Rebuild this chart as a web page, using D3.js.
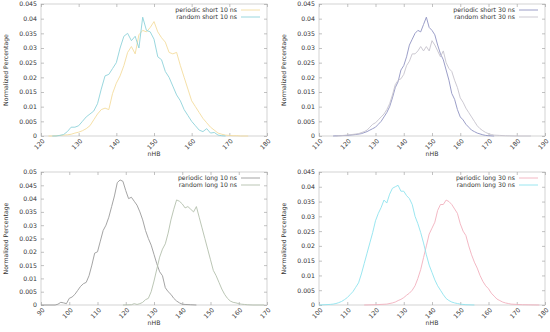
<!DOCTYPE html>
<html>
<head>
<meta charset="utf-8">
<script src="https://cdn.jsdelivr.net/npm/d3@7/dist/d3.min.js"></script>
<style>
  body { margin: 0; background: #fff; }
  text { font-family: "DejaVu Sans", sans-serif; font-size: 6.2px; fill: #333; }
</style>
</head>
<body>
<svg width="550" height="332"></svg>
<script>
// ---- data: [nHB, normalized percentage] ----
var periodicShort10 = [[122,0],[123,0],[124,0.0001],[125,0.0002],[126,0.0003],[127,0.0004],[128,0.0006],[129,0.001],[130,0.0013],[131,0.0018],[132,0.0025],[133,0.0035],[134,0.0055],[135,0.0075],[136,0.009],[137,0.0095],[138,0.009],[139,0.0145],[140,0.018],[141,0.0205],[142,0.024],[143,0.0285],[144,0.0305],[145,0.028],[146,0.0345],[147,0.036],[148,0.0355],[149,0.037],[150,0.039],[151,0.0355],[152,0.0335],[153,0.032],[154,0.0285],[155,0.028],[156,0.0285],[157,0.024],[158,0.02],[159,0.016],[160,0.012],[161,0.01],[162,0.008],[163,0.006],[164,0.0045],[165,0.003],[166,0.002],[167,0.001],[168,0.0006],[169,0.0003],[170,0.0002],[171,0.0001],[172,0.0001],[173,0],[175,0]];
var randomShort10 = [[123,0],[124,0],[125,0.0002],[126,0.0005],[127,0.0015],[128,0.003],[129,0.003],[130,0.0035],[131,0.005],[132,0.0065],[133,0.0075],[134,0.0085],[135,0.011],[136,0.016],[137,0.0205],[138,0.021],[139,0.023],[140,0.025],[141,0.03],[142,0.034],[143,0.035],[144,0.0325],[145,0.034],[146,0.03],[147,0.0405],[148,0.036],[149,0.0355],[150,0.033],[151,0.027],[152,0.026],[153,0.022],[154,0.02],[155,0.017],[156,0.014],[157,0.012],[158,0.009],[159,0.007],[160,0.005],[161,0.0035],[162,0.002],[163,0.0015],[164,0.0025],[165,0.001],[166,0.0012],[167,0.0003],[168,0.0001],[169,0]];

var periodicShort30 = [[115,0],[117,0.0001],[120,0.0002],[123,0.0005],[125,0.0008],[127,0.0015],[128,0.002],[129,0.0025],[130,0.003],[131,0.004],[132,0.005],[133,0.0065],[134,0.008],[135,0.01],[136,0.013],[137,0.0165],[138,0.0185],[139,0.0225],[140,0.024],[141,0.027],[142,0.031],[143,0.033],[144,0.035],[145,0.036],[146,0.0355],[147,0.038],[148,0.0405],[149,0.037],[150,0.036],[151,0.0345],[152,0.031],[153,0.028],[154,0.026],[155,0.0225],[156,0.019],[157,0.0145],[158,0.0125],[159,0.009],[160,0.0065],[161,0.0055],[162,0.004],[163,0.003],[164,0.002],[165,0.0015],[166,0.001],[167,0.0007],[168,0.0004],[169,0.0002],[170,0.0001],[172,0]];
var randomShort30 = [[116,0],[120,0.0003],[124,0.0008],[126,0.0015],[127,0.002],[128,0.003],[129,0.004],[130,0.0045],[131,0.0055],[132,0.0065],[133,0.0075],[134,0.009],[135,0.011],[136,0.014],[137,0.0175],[138,0.019],[139,0.0195],[140,0.021],[141,0.024],[142,0.0255],[143,0.028],[144,0.028],[145,0.029],[146,0.0305],[147,0.029],[148,0.0305],[149,0.029],[150,0.0325],[151,0.031],[152,0.029],[153,0.027],[154,0.029],[155,0.025],[156,0.023],[157,0.022],[158,0.019],[159,0.0165],[160,0.013],[161,0.0115],[162,0.0095],[163,0.008],[164,0.0065],[165,0.005],[166,0.0035],[167,0.0025],[168,0.0018],[169,0.0012],[170,0.0008],[171,0.0005],[172,0.0003],[174,0.0002],[176,0.0001],[180,0],[185,0]];

var periodicLong10 = [[90,0],[95,0],[96,0.0003],[97,0.001],[98,0.0008],[99,0.0005],[100,0.0025],[101,0.003],[102,0.004],[103,0.0055],[104,0.007],[105,0.008],[106,0.0085],[107,0.011],[108,0.015],[109,0.0195],[110,0.02],[111,0.024],[112,0.028],[113,0.03],[114,0.033],[115,0.037],[116,0.041],[117,0.046],[118,0.047],[119,0.0465],[120,0.043],[121,0.04],[122,0.0405],[123,0.039],[124,0.0375],[125,0.035],[126,0.032],[127,0.028],[128,0.025],[129,0.0225],[130,0.019],[131,0.0155],[132,0.0125],[133,0.011],[134,0.0065],[135,0.005],[136,0.004],[137,0.0025],[138,0.0015],[139,0.0008],[140,0.0003],[141,0.0002],[143,0.0001],[145,0]];
var randomLong10 = [[119,0],[122,0.0001],[123,0.0005],[124,0.0002],[125,0.0005],[126,0.001],[127,0.002],[128,0.0025],[129,0.005],[130,0.009],[131,0.0135],[132,0.018],[133,0.021],[134,0.023],[135,0.027],[136,0.032],[137,0.036],[138,0.0395],[139,0.039],[140,0.038],[141,0.0365],[142,0.037],[143,0.036],[144,0.035],[145,0.037],[146,0.033],[147,0.029],[148,0.025],[149,0.021],[150,0.017],[151,0.013],[152,0.011],[153,0.0085],[154,0.006],[155,0.004],[156,0.0025],[157,0.0015],[158,0.001],[159,0.0008],[160,0.0005],[161,0.0003],[162,0.0002],[163,0.0001],[165,0],[169,0]];

var periodicLong30 = [[116,0],[120,0.0001],[124,0.0003],[126,0.0007],[127,0.001],[128,0.0015],[129,0.0019],[130,0.0025],[131,0.0033],[132,0.004],[133,0.005],[134,0.0065],[135,0.009],[136,0.012],[137,0.016],[138,0.02],[139,0.024],[140,0.026],[141,0.028],[142,0.032],[143,0.034],[144,0.034],[145,0.0355],[146,0.035],[147,0.034],[148,0.0325],[149,0.031],[150,0.0275],[151,0.025],[152,0.0235],[153,0.02],[154,0.017],[155,0.0145],[156,0.0125],[157,0.01],[158,0.008],[159,0.0065],[160,0.0055],[161,0.004],[162,0.003],[163,0.002],[164,0.0015],[165,0.001],[166,0.0007],[167,0.0005],[168,0.0003],[170,0.0002],[172,0.0001],[178,0]];
var randomLong30 = [[100,0],[104,0.0002],[105,0.0003],[106,0.0005],[107,0.0008],[108,0.0012],[109,0.0018],[110,0.0025],[111,0.0035],[112,0.0045],[113,0.006],[114,0.0075],[115,0.0105],[116,0.014],[117,0.0175],[118,0.021],[119,0.0245],[120,0.0285],[121,0.031],[122,0.033],[123,0.0355],[124,0.0345],[125,0.0375],[126,0.0395],[127,0.04],[128,0.0405],[129,0.0385],[130,0.0385],[131,0.037],[132,0.036],[133,0.034],[134,0.03],[135,0.0275],[136,0.0245],[137,0.021],[138,0.017],[139,0.0135],[140,0.011],[141,0.0085],[142,0.0065],[143,0.005],[144,0.0035],[145,0.0022],[146,0.0015],[147,0.001],[148,0.0007],[149,0.0005],[150,0.0003],[152,0.0001],[155,0]];

// ---- ticks ----
var xTicksA = [120,130,140,150,160,170,180];
var xTicksB = [110,120,130,140,150,160,170,180,190];
var xTicksC = [90,100,110,120,130,140,150,160,170];
var xTicksD = [100,110,120,130,140,150,160,170,180];
var yTicks045 = [0,0.005,0.01,0.015,0.02,0.025,0.03,0.035,0.04,0.045];
var yTicks05 = [0,0.005,0.01,0.015,0.02,0.025,0.03,0.035,0.04,0.045,0.05];

var panels = [
  {x0: 41,  x1: 267, y0: 4,   y1: 136, xTicks: xTicksA, yTicks: yTicks045,
   series: [{name: "periodic short 10 ns", data: periodicShort10, color: "#f4dc9e"},
            {name: "random short 10 ns",   data: randomShort10,   color: "#8fd2da"}]},
  {x0: 319, x1: 545, y0: 4,   y1: 136, xTicks: xTicksB, yTicks: yTicks045,
   series: [{name: "periodic short 30 ns", data: periodicShort30, color: "#9093c2"},
            {name: "random short 30 ns",   data: randomShort30,   color: "#c6c3cd"}]},
  {x0: 41,  x1: 267, y0: 172, y1: 305, xTicks: xTicksC, yTicks: yTicks05,
   series: [{name: "periodic long 10 ns", data: periodicLong10, color: "#9a9a9a"},
            {name: "random long 10 ns",   data: randomLong10,   color: "#b3c0ad"}]},
  {x0: 319, x1: 545, y0: 172, y1: 305, xTicks: xTicksD, yTicks: yTicks045,
   series: [{name: "periodic long 30 ns", data: periodicLong30, color: "#f2b0bd"},
            {name: "random long 30 ns",   data: randomLong30,   color: "#8fe3ee"}]}
];

var svg = d3.select("svg");

panels.forEach(function(p) {
  var x = d3.scaleLinear()
      .domain([p.xTicks[0], p.xTicks[p.xTicks.length - 1]])
      .range([p.x0, p.x1]);
  var y = d3.scaleLinear()
      .domain([0, p.yTicks[p.yTicks.length - 1]])
      .range([p.y1, p.y0]);

  var g = svg.append("g");

  // frame
  g.append("rect")
      .attr("x", p.x0).attr("y", p.y0)
      .attr("width", p.x1 - p.x0).attr("height", p.y1 - p.y0)
      .attr("fill", "none").attr("stroke", "#c8c8c8").attr("stroke-width", 0.8);

  // left axis with labels, mirrored on the right
  g.append("g")
      .attr("transform", "translate(" + p.x0 + ",0)")
      .call(d3.axisLeft(y).tickValues(p.yTicks).tickSizeInner(-3).tickSizeOuter(0)
        .tickPadding(4).tickFormat(function(d) { return String(d); }));
  g.append("g")
      .attr("transform", "translate(" + p.x1 + ",0)")
      .call(d3.axisRight(y).tickValues(p.yTicks).tickSizeInner(-3).tickSizeOuter(0)
        .tickFormat(""));

  // bottom axis with rotated labels, mirrored on top
  var bottom = g.append("g")
      .attr("transform", "translate(0," + p.y1 + ")")
      .call(d3.axisBottom(x).tickValues(p.xTicks).tickSizeInner(-3).tickSizeOuter(0));
  bottom.selectAll("text")
      .attr("x", 0).attr("y", 0).attr("dy", "0.35em")
      .attr("text-anchor", "end")
      .attr("transform", "translate(2,4) rotate(-45)");
  g.append("g")
      .attr("transform", "translate(0," + p.y0 + ")")
      .call(d3.axisTop(x).tickValues(p.xTicks).tickSizeInner(-3).tickSizeOuter(0)
        .tickFormat(""));

  g.selectAll(".domain").remove();
  g.selectAll(".tick line").attr("stroke", "#a8a8a8").attr("stroke-width", 0.7);
  g.selectAll(".tick text").attr("fill", "#333").style("font-size", "6.2px")
      .style("font-family", "DejaVu Sans, sans-serif");

  // curves
  var line = d3.line()
      .x(function(d) { return x(d[0]); })
      .y(function(d) { return y(d[1]); });
  p.series.forEach(function(s) {
    g.append("path")
        .datum(s.data)
        .attr("fill", "none")
        .attr("stroke", s.color)
        .attr("stroke-width", 0.9)
        .attr("d", line);
  });

  // legend
  p.series.forEach(function(s, i) {
    var ly = p.y0 + 6 + i * 7;
    g.append("text")
        .attr("x", p.x1 - 30).attr("y", ly)
        .attr("dy", "0.35em")
        .attr("text-anchor", "end")
        .text(s.name);
    g.append("line")
        .attr("x1", p.x1 - 26).attr("x2", p.x1 - 7)
        .attr("y1", ly).attr("y2", ly)
        .attr("stroke", s.color).attr("stroke-width", 0.9);
  });

  // axis titles
  g.append("text")
      .attr("x", (p.x0 + p.x1) / 2).attr("y", p.y1 + 20)
      .attr("text-anchor", "middle")
      .text("nHB");
  g.append("text")
      .attr("transform", "translate(" + (p.x0 - 33) + "," + ((p.y0 + p.y1) / 2) + ") rotate(-90)")
      .attr("text-anchor", "middle")
      .text("Normalized Percentage");
});
</script>
</body>
</html>
